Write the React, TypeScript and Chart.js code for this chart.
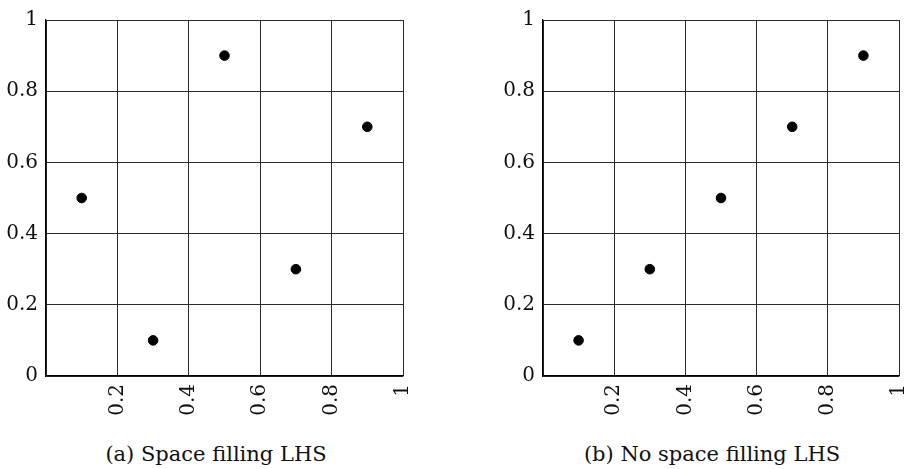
import React, { useEffect, useRef } from "react";
import { Chart, registerables } from "chart.js";

Chart.register(...registerables);

// Data
const xSpaceFilling = [0.1, 0.3, 0.5, 0.7, 0.9];
const ySpaceFilling = [0.5, 0.1, 0.9, 0.3, 0.7];
const xNoSpaceFilling = [0.1, 0.3, 0.5, 0.7, 0.9];
const yNoSpaceFilling = [0.1, 0.3, 0.5, 0.7, 0.9];

const xTickValues = [0, 0.2, 0.4, 0.6, 0.8, 1];
const xTickLabels = ["", "0.2", "0.4", "0.6", "0.8", "1"];
const yTickValues = [0, 0.2, 0.4, 0.6, 0.8, 1];
const yTickLabels = ["0", "0.2", "0.4", "0.6", "0.8", "1"];

const captionA = "(a) Space filling LHS";
const captionB = "(b) No space filling LHS";

const FONT = "'DejaVu Serif', 'Liberation Serif', serif";

type PanelProps = {
  xs: number[];
  ys: number[];
  yAxisWidth: number;
  xAxisHeight: number;
  padRight: number;
  padTop: number;
};

function Panel({ xs, ys, yAxisWidth, xAxisHeight, padRight, padTop }: PanelProps) {
  const ref = useRef<HTMLCanvasElement | null>(null);
  useEffect(() => {
    if (!ref.current) return;
    const chart = new Chart(ref.current, {
      type: "scatter",
      data: {
        datasets: [
          {
            data: xs.map((x, i) => ({ x, y: ys[i] })),
            backgroundColor: "#000",
            borderColor: "#000",
            pointRadius: 4.8,
            pointHoverRadius: 4.8,
          },
        ],
      },
      options: {
        animation: false,
        responsive: false,
        events: [],
        layout: { padding: { left: 0, top: padTop, right: padRight, bottom: 0 } },
        plugins: { legend: { display: false }, tooltip: { enabled: false } },
        scales: {
          x: {
            type: "linear",
            min: 0,
            max: 1,
            afterBuildTicks: (scale: any) => {
              scale.ticks = xTickValues.map((v) => ({ value: v }));
            },
            afterFit: (scale: any) => {
              scale.height = xAxisHeight;
              scale.paddingRight = 0;
              scale.paddingLeft = 0;
            },
            grid: { color: "#2a2a2a", lineWidth: 1, drawTicks: false },
            border: { color: "#000", width: 1.2 },
            ticks: {
              color: "#111",
              font: { family: FONT, size: 20 },
              padding: 8,
              maxRotation: 90,
              minRotation: 90,
              autoSkip: false,
              callback: (v: any) => {
                const i = xTickValues.findIndex((t) => Math.abs(t - Number(v)) < 1e-9);
                return i >= 0 ? xTickLabels[i] : "";
              },
            },
          },
          y: {
            type: "linear",
            min: 0,
            max: 1,
            afterBuildTicks: (scale: any) => {
              scale.ticks = yTickValues.map((v) => ({ value: v }));
            },
            afterFit: (scale: any) => {
              scale.width = yAxisWidth;
            },
            grid: { color: "#2a2a2a", lineWidth: 1, drawTicks: false },
            border: { color: "#000", width: 1.2 },
            ticks: {
              color: "#111",
              font: { family: FONT, size: 20 },
              padding: 8,
              autoSkip: false,
              callback: (v: any) => {
                const i = yTickValues.findIndex((t) => Math.abs(t - Number(v)) < 1e-9);
                return i >= 0 ? yTickLabels[i] : "";
              },
            },
          },
        },
      },
    });
    return () => chart.destroy();
  }, []);
  return <canvas ref={ref} width={460} height={430} style={{ width: 460, height: 430, display: "block" }} />;
}

const captionStyle: React.CSSProperties = {
  position: "absolute",
  width: 400,
  top: 442,
  lineHeight: "24px",
  textAlign: "center",
  fontFamily: FONT,
  fontSize: 21,
  color: "#111",
  whiteSpace: "nowrap",
};

export default function App() {
  return (
    <div
      style={{
        position: "fixed",
        left: 0,
        top: 0,
        width: 905,
        height: 469,
        overflow: "hidden",
        background: "#fff",
      }}
    >
      <div style={{ position: "absolute", left: 0, top: 0 }}>
        <Panel xs={xSpaceFilling} ys={ySpaceFilling} yAxisWidth={46} xAxisHeight={54} padRight={57} padTop={19} />
      </div>
      <div style={{ position: "absolute", left: 460, top: 0 }}>
        <Panel xs={xNoSpaceFilling} ys={yNoSpaceFilling} yAxisWidth={83} xAxisHeight={54} padRight={21} padTop={19} />
      </div>
      <div style={{ ...captionStyle, left: 16 }}>{captionA}</div>
      <div style={{ ...captionStyle, left: 512 }}>{captionB}</div>
    </div>
  );
}
